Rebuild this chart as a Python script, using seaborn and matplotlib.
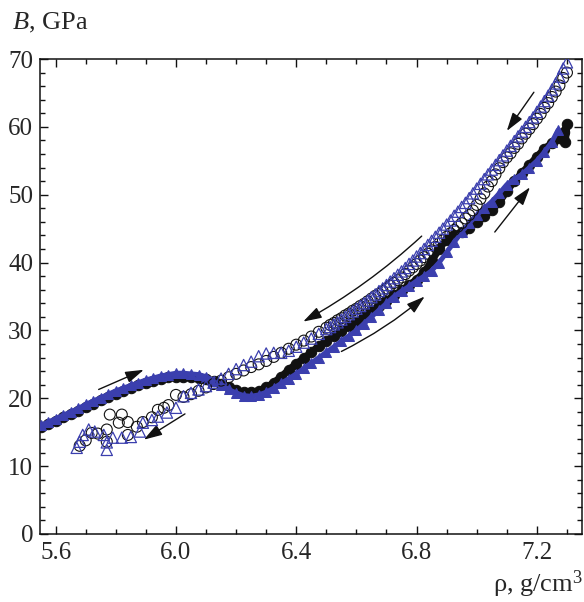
import matplotlib
matplotlib.use("Agg")
import matplotlib.pyplot as plt
import seaborn as sns
import pandas as pd

# --- loading (compression) branch, filled markers ---
rho_up_black = [5.55, 5.575, 5.60, 5.625, 5.65, 5.675, 5.70, 5.725, 5.75, 5.775,
                5.80, 5.825, 5.85, 5.875, 5.90, 5.925, 5.95, 5.975, 6.00, 6.025,
                6.05, 6.075, 6.10, 6.125, 6.15, 6.175, 6.20, 6.225, 6.25, 6.275,
                6.30, 6.325, 6.35, 6.375, 6.40, 6.425, 6.45, 6.475, 6.50, 6.525,
                6.55, 6.575, 6.60, 6.625, 6.65, 6.675, 6.70, 6.725, 6.75, 6.775,
                6.80, 6.825, 6.85, 6.875, 6.90, 6.925, 6.95, 6.975, 7.00, 7.025,
                7.05, 7.075, 7.10, 7.125, 7.15, 7.175, 7.20, 7.225, 7.25, 7.275,
                7.29, 7.30, 7.295]
B_up_black = [15.8, 16.2, 16.7, 17.2, 17.7, 18.2, 18.7, 19.2, 19.7, 20.2,
              20.7, 21.1, 21.5, 21.9, 22.3, 22.6, 22.9, 23.1, 23.2, 23.2,
              23.1, 23.0, 22.8, 22.5, 22.1, 21.6, 21.2, 20.9, 20.9, 21.1,
              21.6, 22.3, 23.2, 24.2, 25.1, 25.9, 26.8, 27.7, 28.5, 29.2,
              29.9, 30.6, 31.3, 32.1, 32.9, 33.6, 34.4, 35.2, 35.9, 36.7,
              37.5, 38.6, 40.2, 42.0, 43.4, 44.0, 44.5, 45.1, 46.0, 46.9,
              47.7, 48.9, 50.5, 52.0, 53.2, 54.4, 55.6, 56.8, 57.6, 58.4,
              59.2, 60.4, 57.8]

rho_up_blue = [5.55, 5.575, 5.60, 5.625, 5.65, 5.675, 5.70, 5.725, 5.75, 5.775,
               5.80, 5.825, 5.85, 5.875, 5.90, 5.925, 5.95, 5.975, 6.00, 6.025,
               6.05, 6.075, 6.10, 6.125, 6.15, 6.175, 6.20, 6.225, 6.25, 6.275,
               6.30, 6.325, 6.35, 6.375, 6.40, 6.425, 6.45, 6.475, 6.50, 6.525,
               6.55, 6.575, 6.60, 6.625, 6.65, 6.675, 6.70, 6.725, 6.75, 6.775,
               6.80, 6.825, 6.85, 6.875, 6.90, 6.925, 6.95, 6.975, 7.00, 7.025,
               7.05, 7.075, 7.10, 7.125, 7.15, 7.175, 7.20, 7.225, 7.25, 7.27]
B_up_blue = [16.0, 16.5, 17.0, 17.5, 18.0, 18.5, 19.1, 19.6, 20.1, 20.6,
             21.1, 21.5, 21.9, 22.3, 22.7, 23.0, 23.3, 23.5, 23.7, 23.7,
             23.6, 23.5, 23.2, 22.6, 22.0, 21.3, 20.8, 20.4, 20.3, 20.5,
             20.9, 21.5, 22.2, 22.9, 23.6, 24.4, 25.2, 26.0, 26.8, 27.6,
             28.4, 29.2, 30.0, 31.0, 32.0, 33.0, 34.0, 35.0, 35.8, 36.5,
             37.3, 38.0, 38.8, 40.0, 41.5, 43.0, 44.5, 45.8, 47.0, 48.0,
             49.0, 50.2, 51.5, 52.3, 53.0, 54.0, 55.0, 56.3, 57.8, 59.5]

# --- unloading branch, open markers ---
rho_down_circ = [7.30, 7.2875, 7.275, 7.2625, 7.25, 7.2375, 7.225, 7.2125, 7.20, 7.1875,
                 7.175, 7.1625, 7.15, 7.1375, 7.125, 7.1125, 7.10, 7.0875, 7.075, 7.0625,
                 7.05, 7.0375, 7.025, 7.0125, 7.00, 6.9875, 6.975, 6.9625, 6.95, 6.9375,
                 6.925, 6.9125, 6.90, 6.8875, 6.875, 6.8625, 6.85, 6.8375, 6.825, 6.8125,
                 6.80, 6.7875, 6.775, 6.7625, 6.75, 6.7375, 6.725, 6.7125, 6.70, 6.6875,
                 6.675, 6.6625, 6.65, 6.6375, 6.625, 6.6125, 6.60, 6.5875, 6.575, 6.5625,
                 6.55, 6.5375, 6.525, 6.5125, 6.50, 6.475, 6.45, 6.425, 6.40, 6.375,
                 6.35, 6.325, 6.30, 6.275, 6.25, 6.225, 6.20, 6.175, 6.15, 6.125,
                 6.10, 6.075, 6.05, 6.025, 6.00, 5.975, 5.96, 5.94, 5.92, 5.89,
                 5.87, 5.84, 5.84, 5.82, 5.81, 5.78, 5.77, 5.77, 5.74, 5.72,
                 5.70, 5.68]
B_down_circ = [68.0, 67.2, 66.1, 65.2, 64.4, 63.5, 62.8, 61.9, 61.2, 60.4,
               59.7, 59.0, 58.3, 57.5, 56.9, 56.1, 55.5, 54.8, 53.9, 53.0,
               52.0, 51.2, 50.2, 49.4, 48.5, 47.7, 47.0, 46.5, 45.8, 45.3,
               44.8, 44.3, 43.8, 43.3, 42.8, 42.3, 41.8, 41.3, 40.8, 40.3,
               39.8, 39.3, 38.8, 38.3, 37.8, 37.4, 37.0, 36.6, 36.2, 35.8,
               35.4, 35.1, 34.7, 34.3, 33.9, 33.6, 33.2, 32.9, 32.5, 32.2,
               31.8, 31.5, 31.1, 30.8, 30.4, 29.8, 29.1, 28.5, 27.9, 27.3,
               26.7, 26.1, 25.5, 25.0, 24.6, 24.1, 23.6, 23.1, 22.6, 22.1,
               21.6, 21.1, 20.6, 20.2, 20.5, 19.0, 18.6, 18.3, 17.2, 16.5,
               15.8, 16.5, 14.6, 17.6, 16.4, 17.6, 15.4, 13.6, 14.8, 14.9,
               13.8, 13.0]

rho_down_tri = [7.30, 7.2875, 7.275, 7.2625, 7.25, 7.2375, 7.225, 7.2125, 7.20, 7.1875,
                7.175, 7.1625, 7.15, 7.1375, 7.125, 7.1125, 7.10, 7.0875, 7.075, 7.0625,
                7.05, 7.0375, 7.025, 7.0125, 7.00, 6.9875, 6.975, 6.9625, 6.95, 6.9375,
                6.925, 6.9125, 6.90, 6.8875, 6.875, 6.8625, 6.85, 6.8375, 6.825, 6.8125,
                6.80, 6.7875, 6.775, 6.7625, 6.75, 6.7375, 6.725, 6.7125, 6.70, 6.6875,
                6.675, 6.6625, 6.65, 6.6375, 6.625, 6.6125, 6.60, 6.5875, 6.575, 6.5625,
                6.55, 6.5375, 6.525, 6.5125, 6.50, 6.475, 6.45, 6.425, 6.40, 6.375,
                6.35, 6.325, 6.30, 6.275, 6.25, 6.225, 6.20, 6.175, 6.15, 6.125,
                6.10, 6.075, 6.05, 6.025, 6.00, 5.97, 5.94, 5.92, 5.89, 5.88,
                5.85, 5.82, 5.79, 5.77, 5.77, 5.76, 5.73, 5.71, 5.69, 5.68,
                5.67]
B_down_tri = [69.5, 68.6, 67.4, 66.4, 65.5, 64.6, 63.8, 63.0, 62.2, 61.4,
              60.7, 60.0, 59.3, 58.6, 57.9, 57.2, 56.5, 55.8, 55.1, 54.4,
              53.7, 53.0, 52.3, 51.6, 50.9, 50.2, 49.5, 48.8, 48.2, 47.5,
              46.9, 46.2, 45.6, 45.0, 44.4, 43.8, 43.2, 42.6, 42.0, 41.4,
              40.9, 40.3, 39.8, 39.2, 38.7, 38.2, 37.7, 37.2, 36.7, 36.2,
              35.8, 35.3, 34.9, 34.4, 34.0, 33.6, 33.2, 32.8, 32.4, 32.0,
              31.6, 31.2, 30.9, 30.5, 30.2, 29.5, 28.8, 28.2, 27.6, 27.0,
              26.7, 26.7, 26.6, 26.2, 25.4, 24.9, 24.3, 23.6, 22.9, 22.3,
              21.8, 21.3, 20.8, 20.3, 18.6, 17.9, 17.3, 16.8, 16.4, 15.1,
              14.3, 14.2, 14.2, 13.5, 12.4, 14.6, 15.1, 15.4, 14.6, 13.6,
              12.7]

# arrows: (x_tail, B_tail, x_head, B_head, curvature)
arrows = [(5.743, 21.3, 5.893, 24.2, 0.0),
          (6.03, 17.7, 5.893, 13.9, 0.0),
          (6.817, 43.9, 6.423, 31.3, -0.06),
          (6.55, 26.9, 6.827, 35.0, 0.06),
          (7.06, 44.5, 7.177, 51.1, 0.0),
          (7.19, 65.1, 7.10, 59.4, 0.0)]

blue = "#3b3fae"

sns.set_style("ticks")
plt.rcParams["font.family"] = ["Liberation Serif", "DejaVu Serif"]
plt.rcParams["mathtext.fontset"] = "custom"
plt.rcParams["mathtext.rm"] = "Liberation Serif"
plt.rcParams["mathtext.it"] = "Liberation Serif:italic"

fig, ax = plt.subplots(figsize=(5.84, 6.02), dpi=100)
fig.subplots_adjust(left=40 / 584, right=582 / 584, bottom=1 - 534 / 602, top=1 - 59 / 602)

up_k = pd.DataFrame({"rho": rho_up_black, "B": B_up_black})
up_b = pd.DataFrame({"rho": rho_up_blue, "B": B_up_blue})
dn_c = pd.DataFrame({"rho": rho_down_circ, "B": B_down_circ})
dn_t = pd.DataFrame({"rho": rho_down_tri, "B": B_down_tri})

sns.lineplot(data=up_k, x="rho", y="B", ax=ax, sort=False, estimator=None,
             color="#111111", lw=5, marker="o", ms=7.5, mec="#111111", zorder=2)
sns.lineplot(data=up_b, x="rho", y="B", ax=ax, sort=False, estimator=None,
             color=blue, lw=3.5, marker="^", ms=7, mec=blue, zorder=3)
sns.scatterplot(data=dn_c, x="rho", y="B", ax=ax, marker="o", s=62,
                facecolor="none", edgecolor="#111111", linewidth=0.8, zorder=4)
sns.scatterplot(data=dn_t, x="rho", y="B", ax=ax, marker="^", s=66,
                facecolor="none", edgecolor=blue, linewidth=0.9, zorder=5)

for x0, y0, x1, y1, rad in arrows:
    ax.annotate("", xy=(x1, y1), xytext=(x0, y0),
                arrowprops=dict(arrowstyle="-|>,head_length=0.8,head_width=0.25",
                                color="#111111", lw=1.0, mutation_scale=14,
                                shrinkA=0, shrinkB=0,
                                connectionstyle=f"arc3,rad={rad}"))

ax.set_xlim(5.548, 7.35)
ax.set_ylim(0, 70)
ax.set_xticks([5.6, 6.0, 6.4, 6.8, 7.2])
ax.set_xticklabels(["5.6", "6.0", "6.4", "6.8", "7.2"])
ax.set_xticks([5.7, 5.8, 5.9, 6.1, 6.2, 6.3, 6.5, 6.6, 6.7, 6.9, 7.0, 7.1, 7.3], minor=True)
ax.set_yticks(range(0, 71, 10))
ax.set_yticks(range(0, 71, 2), minor=True)
ax.tick_params(which="both", direction="in", top=True, right=True, width=1.0,
               labelsize=18, color="#111111")
ax.tick_params(which="major", length=6)
ax.tick_params(which="minor", length=3.5)
ax.tick_params(axis="y", pad=5)
ax.tick_params(axis="x", pad=6)
for sp in ax.spines.values():
    sp.set_linewidth(1.1)
    sp.set_color("#111111")
ax.set_xlabel("")
ax.set_ylabel("")

fig.text(12 / 584, 1 - 29 / 602, "$B$, GPa", fontsize=19, ha="left", va="baseline")
fig.text(583 / 584, 1 - 592 / 602, "ρ, g/cm$^3$", fontsize=19, ha="right", va="baseline")

fig.savefig("out.png", dpi=100)
